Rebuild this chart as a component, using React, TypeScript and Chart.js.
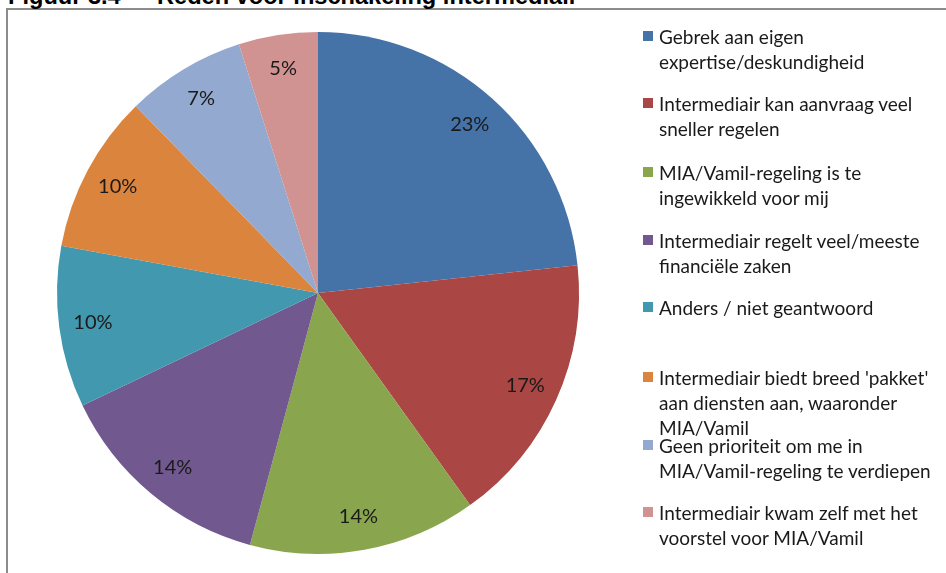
import React, { useEffect, useRef } from "react";
import { Chart, registerables } from "chart.js";

Chart.register(...registerables);

const categories: string[][] = [
  ["Gebrek aan eigen", "expertise/deskundigheid"],
  ["Intermediair kan aanvraag veel", "sneller regelen"],
  ["MIA/Vamil-regeling is te", "ingewikkeld voor mij"],
  ["Intermediair regelt veel/meeste", "financiële zaken"],
  ["Anders / niet geantwoord"],
  ["Intermediair biedt breed 'pakket'", "aan diensten aan, waaronder", "MIA/Vamil"],
  ["Geen prioriteit om me in", "MIA/Vamil-regeling te verdiepen"],
  ["Intermediair kwam zelf met het", "voorstel voor MIA/Vamil"],
];
const values: number[] = [23.3, 16.8, 14.1, 13.7, 10.0, 9.8, 7.4, 4.9];
const colors: string[] = ["#4572A7", "#AA4643", "#89A54E", "#71588F", "#4198AF", "#DB843D", "#93A9CF", "#D19392"];
const legendTops: number[] = [36, 103, 172, 240, 307, 377, 445, 512];

const pctLabels = {
  id: "pctLabels",
  afterDatasetsDraw(chart: any) {
    const ctx = chart.ctx;
    const meta = chart.getDatasetMeta(0);
    const data = chart.data.datasets[0].data as number[];
    const total = data.reduce((a, b) => a + b, 0);
    ctx.save();
    ctx.font = '20px Lato, "Noto Sans", sans-serif';
    ctx.fillStyle = "#1a1a1a";
    ctx.textAlign = "center";
    ctx.textBaseline = "middle";
    meta.data.forEach((arc: any, i: number) => {
      const p = arc.getProps(["x", "y", "startAngle", "endAngle", "outerRadius"], true);
      const mid = (p.startAngle + p.endAngle) / 2;
      const r = p.outerRadius * 0.87;
      const x = p.x + Math.cos(mid) * r;
      const y = p.y + Math.sin(mid) * r;
      ctx.fillText(Math.round((data[i] / total) * 100) + "%", x, y);
    });
    ctx.restore();
  },
};

export default function App() {
  const ref = useRef<HTMLCanvasElement>(null);
  useEffect(() => {
    if (!ref.current) return;
    const chart = new Chart(ref.current, {
      type: "pie",
      data: {
        labels: categories.map((c) => c.join(" ")),
        datasets: [{ data: values, backgroundColor: colors, borderWidth: 0 }],
      },
      options: {
        responsive: false,
        animation: false,
        layout: { padding: { left: 57, right: 367, top: 32, bottom: 19 } },
        plugins: { legend: { display: false }, tooltip: { enabled: false } },
      },
      plugins: [pctLabels],
    });
    return () => chart.destroy();
  }, []);

  return (
    <div style={{ position: "fixed", left: 0, top: 0, width: 946, height: 573, overflow: "hidden", background: "#fff" }}>
      <div style={{ position: "absolute", left: 6, top: 8, width: 1200, height: 800, border: "2px solid #8c8c8c", boxSizing: "border-box" }} />
      <div style={{ position: "absolute", left: 8, top: -15, font: 'bold 23.6px "Liberation Sans", Arial, sans-serif', lineHeight: 1, whiteSpace: "nowrap", color: "#000" }}>
        Figuur 3.4
      </div>
      <div style={{ position: "absolute", left: 157, top: -15, font: 'bold 23.6px "Liberation Sans", Arial, sans-serif', lineHeight: 1, whiteSpace: "nowrap", color: "#000" }}>
        Reden voor inschakeling intermediair
      </div>
      <canvas ref={ref} width={946} height={573} style={{ position: "absolute", left: 0, top: 0, width: 946, height: 573 }} />
      {categories.map((lines, i) => (
        <div key={i} style={{ position: "absolute", left: 643, top: legendTops[i] - 12.5, whiteSpace: "nowrap" }}>
          <div style={{ position: "absolute", left: 0, top: 7.5, width: 10, height: 10, background: colors[i] }} />
          <div style={{ position: "absolute", left: 16, top: 0, font: '19px Lato, "Noto Sans", sans-serif', lineHeight: "25px", color: "#1a1a1a" }}>
            {lines.map((l, j) => (
              <div key={j}>{l}</div>
            ))}
          </div>
        </div>
      ))}
    </div>
  );
}
